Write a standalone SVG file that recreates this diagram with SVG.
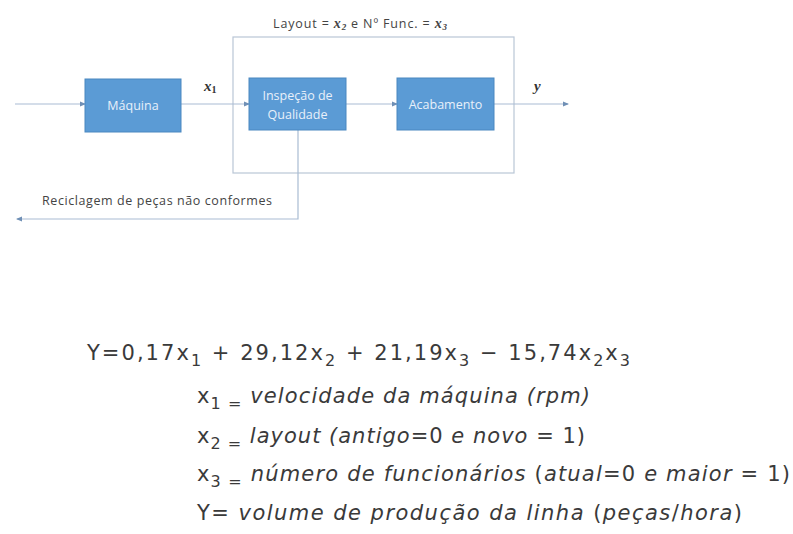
<svg xmlns="http://www.w3.org/2000/svg" width="793" height="534" viewBox="0 0 793 534">
<defs>
<marker id="ah" markerWidth="6" markerHeight="6" refX="5" refY="3" orient="auto" markerUnits="userSpaceOnUse">
<path d="M0,0.5 L6,3 L0,5.5 Z" fill="#6f8fb5"/>
</marker>
</defs>
<style>
.box{fill:#5b9bd5;stroke:#4a87c0;stroke-width:1}
.bt{font-family:"Open Sans","Liberation Sans",sans-serif;font-size:12.5px;fill:#e8f0fa;text-anchor:middle}
.ln{fill:none;stroke:#a9bcd3;stroke-width:1.2}
.lbl{font-family:"Open Sans","Liberation Sans",sans-serif;font-size:12.5px;fill:#444}
.mi{font-family:"Liberation Serif",serif;font-style:italic;font-weight:bold}
.eq{font-family:"DejaVu Sans",sans-serif;font-size:21px;fill:#3a3a3a}
.it{font-style:italic}
</style>
<rect width="793" height="534" fill="#fff"/>
<g id="boundary">
<rect x="233" y="37" width="281" height="136" fill="none" stroke="#b9c6d6" stroke-width="1.2"/>
<text class="lbl" x="273" y="28" textLength="174" lengthAdjust="spacing">Layout = <tspan class="mi" font-size="14">x</tspan><tspan class="mi" font-size="9" dy="2">2</tspan><tspan dy="-2"> e Nº Func. = </tspan><tspan class="mi" font-size="14">x</tspan><tspan class="mi" font-size="9" dy="2">3</tspan></text>
</g>
<g id="connectors">
<line class="ln" x1="15" y1="104" x2="85" y2="104" marker-end="url(#ah)"/>
<line class="ln" x1="181" y1="104" x2="249" y2="104" marker-end="url(#ah)"/>
<line class="ln" x1="346" y1="104" x2="397" y2="104" marker-end="url(#ah)"/>
<line class="ln" x1="494" y1="104" x2="568" y2="104" marker-end="url(#ah)"/>
<polyline class="ln" points="298,130 298,219 17,219" marker-end="url(#ah)"/>
<text class="lbl" x="42" y="205" textLength="230" lengthAdjust="spacing">Reciclagem de peças não conformes</text>
<text x="204" y="91" font-family="Liberation Serif,serif" font-style="italic" font-weight="bold" font-size="15" fill="#333">x<tspan font-size="10" dy="2" font-style="normal">1</tspan></text>
<text x="534" y="91" font-family="Liberation Serif,serif" font-style="italic" font-weight="bold" font-size="15" fill="#333">y</text>
</g>
<g id="maquina">
<rect class="box" x="85" y="79" width="96" height="53"/>
<text class="bt" x="133" y="110">Máquina</text>
</g>
<g id="inspecao">
<rect class="box" x="249" y="78" width="97" height="52"/>
<text class="bt" x="297.5" y="100">Inspeção de</text>
<text class="bt" x="297.5" y="119">Qualidade</text>
</g>
<g id="acabamento">
<rect class="box" x="397" y="78" width="97" height="52"/>
<text class="bt" x="445.5" y="109">Acabamento</text>
</g>
<g id="equations">
<text class="eq" x="87" y="360" textLength="543" lengthAdjust="spacing">Y=0,17x<tspan font-size="16" dy="6">1</tspan><tspan dy="-6"> + 29,12x</tspan><tspan font-size="16" dy="6">2</tspan><tspan dy="-6"> + 21,19x</tspan><tspan font-size="16" dy="6">3</tspan><tspan dy="-6"> − 15,74x</tspan><tspan font-size="16" dy="6">2</tspan><tspan dy="-6">x</tspan><tspan font-size="16" dy="6">3</tspan></text>
<text class="eq" x="197" y="403" textLength="393" lengthAdjust="spacing">x<tspan font-size="16" dy="6">1 =</tspan><tspan dy="-6" class="it"> velocidade da máquina (rpm)</tspan></text>
<text class="eq" x="197" y="443" textLength="388" lengthAdjust="spacing">x<tspan font-size="16" dy="6">2 =</tspan><tspan dy="-6" class="it"> layout (antigo</tspan><tspan>=0 </tspan><tspan class="it">e novo </tspan><tspan>= 1)</tspan></text>
<text class="eq" x="197" y="481" textLength="593" lengthAdjust="spacing">x<tspan font-size="16" dy="6">3 =</tspan><tspan dy="-6" class="it"> número de funcionários </tspan><tspan>(</tspan><tspan class="it">atual</tspan><tspan>=0 </tspan><tspan class="it">e maior </tspan><tspan>= 1)</tspan></text>
<text class="eq" x="197" y="520" textLength="545" lengthAdjust="spacing">Y= <tspan class="it">volume de produção da linha </tspan><tspan>(</tspan><tspan class="it">peças</tspan><tspan>/</tspan><tspan class="it">hora</tspan><tspan>)</tspan></text>
</g>
</svg>
